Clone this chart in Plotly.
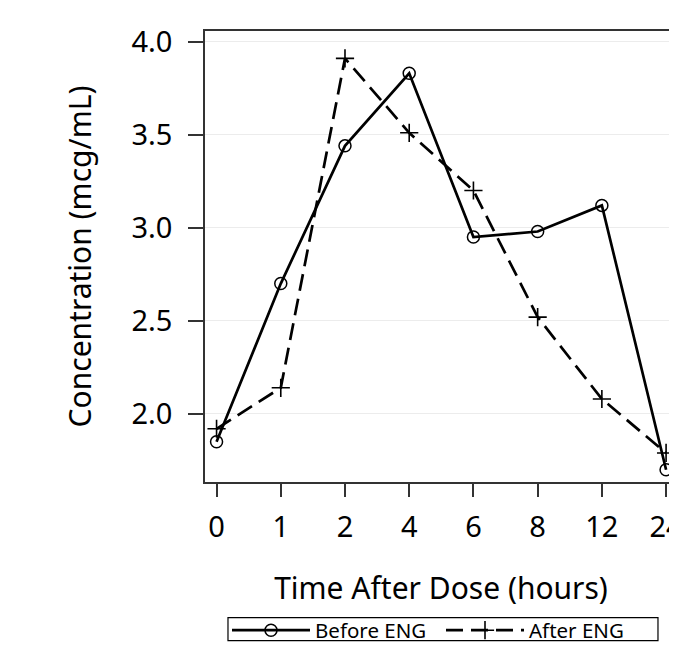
import plotly.graph_objects as go

time_labels = ["0", "1", "2", "4", "6", "8", "12", "24"]
before_eng = [1.85, 2.70, 3.44, 3.83, 2.95, 2.98, 3.12, 1.70]
after_eng = [1.92, 2.14, 3.91, 3.51, 3.20, 2.52, 2.08, 1.79]
y_ticks = [2.0, 2.5, 3.0, 3.5, 4.0]

FONT = "Noto Sans"

fig = go.Figure()
fig.add_trace(go.Scatter(
    x=time_labels, y=before_eng, name="Before ENG", mode="lines+markers",
    line=dict(color="black", width=2.7),
    marker=dict(symbol="circle-open", size=12, color="black", line=dict(width=1.5)),
))
fig.add_trace(go.Scatter(
    x=time_labels, y=after_eng, name="After ENG", mode="lines+markers",
    line=dict(color="black", width=2.7, dash="17px,8px"),
    marker=dict(symbol="cross-thin-open", size=13, color="black", line=dict(width=1.6, color="black")),
))

fig.update_layout(
    width=677, height=649,
    margin=dict(l=197, r=8, t=23, b=174),
    paper_bgcolor="white", plot_bgcolor="white",
    font=dict(family=FONT, color="black"),
    legend=dict(orientation="h", x=0.5, xanchor="center", y=-0.326, yanchor="middle",
                borderwidth=0, font=dict(size=20.5), bgcolor="rgba(0,0,0,0)",
                itemwidth=78, entrywidth=121, entrywidthmode="pixels", tracegroupgap=0),
    showlegend=True,
    shapes=[dict(type="rect", xref="paper", yref="paper",
                 x0=0.0487, x1=0.9597, y0=-0.3518, y1=-0.3009,
                 line=dict(color="black", width=1.2), fillcolor="rgba(0,0,0,0)")],
)
fig.update_xaxes(
    type="category", range=[-0.18, 7.17], automargin=False,
    showline=True, linecolor="#333", linewidth=1.5, mirror=True,
    ticks="outside", ticklen=13, tickcolor="#333", tickwidth=1.5,
    ticklabelstandoff=5,
    tickfont=dict(size=29), showgrid=False,
    title=dict(text="Time After Dose (hours)", font=dict(size=30), standoff=34),
)
fig.update_yaxes(
    range=[1.634, 4.057], tickvals=y_ticks, ticktext=["2.0", "2.5", "3.0", "3.5", "4.0"],
    automargin=False,
    showline=True, linecolor="#333", linewidth=1.5, mirror=False,
    ticks="outside", ticklen=15, tickcolor="#333", tickwidth=1.5,
    ticklabelstandoff=10,
    tickfont=dict(size=29), showgrid=True, gridcolor="#ececec", gridwidth=1,
    zeroline=False,
    title=dict(text="Concentration (mcg/mL)", font=dict(size=30), standoff=31),
)

fig.write_html("out.html")
